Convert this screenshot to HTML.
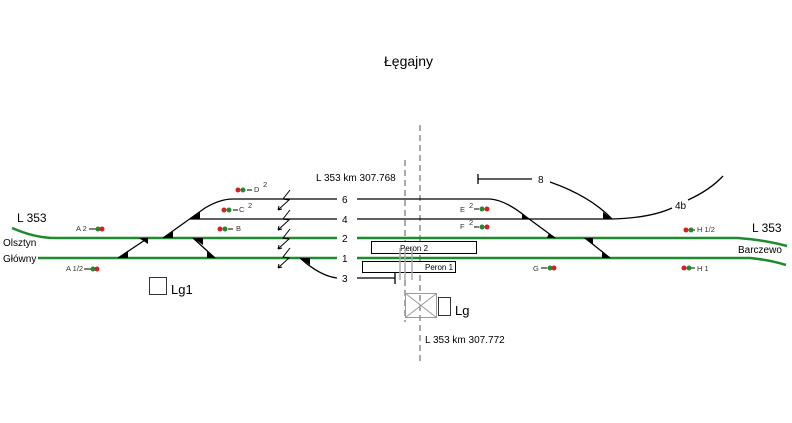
<!DOCTYPE html>
<html><head><meta charset="utf-8"><style>
body{margin:0;background:#fff}
svg{display:block;font-family:"Liberation Sans",Arial,sans-serif}
</style></head><body>
<svg width="792" height="423" viewBox="0 0 792 423">
<rect width="792" height="423" fill="#fff"/>
<text x="384" y="66" font-size="14">Łęgajny</text>
<!-- dashed lines -->
<line x1="405" y1="160" x2="405" y2="322" stroke="#555" stroke-width="1" stroke-dasharray="6,4"/>
<line x1="420" y1="125" x2="420" y2="365" stroke="#555" stroke-width="1" stroke-dasharray="6,4"/>
<!-- green tracks -->
<g stroke="#1e8c2c" stroke-width="2.5" fill="none">
<path d="M12,228 Q35,238 55,238 L337,238"/>
<path d="M357,238 L738,238 Q765,240 787,246"/>
<path d="M38,258 L337,258"/>
<path d="M357,258 L750,258 Q770,260 786,265"/>
</g>
<!-- black tracks -->
<g stroke="#000" stroke-width="1.3" fill="none">
<path d="M163,238 L205,208 Q220,199 233,199 L337,199"/>
<path d="M357,199 L490,199 Q505,200 525,216 L555,238"/>
<path d="M190,219 L337,219"/>
<path d="M357,219 L612,219 Q650,218 672,208"/>
<path d="M688,200 Q710,190 723,176"/>
<path d="M118,258 L148,238"/>
<path d="M193,238 L215,258"/>
<path d="M585,238 L610,258"/>
<path d="M300,258 Q320,276 337,278"/>
<path d="M357,278 L395,278"/><path d="M395,273 V284"/>
<path d="M478,179 L532,179"/><path d="M478,174 V184"/>
<path d="M550,182 Q590,196 612,219"/>
</g>
<!-- switch triangles -->
<g fill="#000">
<polygon points="118,258 128,258 128,251"/>
<polygon points="139,238 148,238 148,244"/>
<polygon points="163,238 173,238 173,231"/>
<polygon points="190,219 200,219 200,212"/>
<polygon points="193,238 203,238 203,245"/>
<polygon points="207,250 215,258 207,258"/>
<polygon points="300,258 310,258 310,265"/>
<polygon points="522,214 530,219 522,219"/>
<polygon points="549,233 555,238 547,238"/>
<polygon points="584,238 593,238 593,245"/>
<polygon points="602,251 610,258 602,258"/>
<polygon points="603,212 612,219 603,219"/>
</g>
<!-- arrows -->
<g stroke="#000" stroke-width="1" fill="none">
<path d="M290,190 L283,199 L289,200 L278,210 M278,210 l4,-1 M278,210 l1,-4"/>
<path d="M290,210 L283,219 L289,220 L278,230 M278,230 l4,-1 M278,230 l1,-4"/>
<path d="M290,229 L283,238 L289,239 L278,249 M278,249 l4,-1 M278,249 l1,-4"/>
<path d="M290,248 L283,257 L289,258 L278,268 M278,268 l4,-1 M278,268 l1,-4"/>
</g>
<!-- platforms -->
<rect x="371.5" y="241.5" width="105" height="12" fill="#fff" stroke="#000"/>
<text x="400" y="251" font-size="8">Peron 2</text>
<rect x="362.5" y="261.5" width="93" height="11" fill="#fff" stroke="#000"/>
<text x="425" y="270" font-size="8">Peron 1</text>
<g stroke="#aaa" stroke-width="1.5"><line x1="400" y1="248" x2="400" y2="280"/><line x1="405" y1="248" x2="405" y2="280"/><line x1="412" y1="248" x2="412" y2="280"/></g>
<!-- buildings -->
<g stroke="#999" fill="none"><rect x="405.5" y="293.5" width="31" height="24"/><path d="M405.5,293.5 L436.5,317.5 M436.5,293.5 L405.5,317.5"/></g>
<rect x="438.5" y="297.5" width="12" height="18" fill="none" stroke="#333"/>
<text x="455" y="315" font-size="13">Lg</text>
<rect x="149.5" y="277.5" width="17" height="17" fill="none" stroke="#333"/>
<text x="171" y="294" font-size="13">Lg1</text>
<!-- labels -->
<g font-size="10">
<text x="342" y="203">6</text><text x="342" y="223">4</text><text x="342" y="242">2</text><text x="342" y="262">1</text><text x="342" y="282">3</text>
<text x="538" y="183">8</text><text x="675" y="209">4b</text>
<text x="316" y="181">L 353 km  307.768</text>
<text x="425" y="343">L 353  km  307.772</text>
<text x="3" y="246">Olsztyn</text><text x="3" y="262">Główny</text>
<text x="738" y="253">Barczewo</text>
</g>
<text x="17" y="222" font-size="12">L 353</text>
<text x="752" y="232" font-size="12">L 353</text>
<!-- signals -->
<g font-size="7.5" fill="#333">
<text x="76" y="231">A 2</text><text x="66" y="271">A 1/2</text>
<text x="254" y="192">D</text><text x="263" y="187">2</text>
<text x="239" y="212">C</text><text x="248" y="208">2</text>
<text x="236" y="231">B</text>
<text x="460" y="212">E</text><text x="469" y="208">2</text>
<text x="460" y="229">F</text><text x="469" y="225">2</text>
<text x="533" y="271">G</text>
<text x="697" y="232">H 1/2</text><text x="697" y="271">H 1</text>
</g>
<g stroke="#000" stroke-width="1">
<line x1="89" y1="229" x2="96" y2="229"/><line x1="84" y1="269" x2="91" y2="269"/>
<line x1="247" y1="190" x2="252" y2="190"/><line x1="233" y1="210" x2="238" y2="210"/>
<line x1="228" y1="229" x2="233" y2="229"/><line x1="474" y1="209" x2="479" y2="209"/>
<line x1="474" y1="227" x2="479" y2="227"/><line x1="541" y1="268" x2="547" y2="268"/>
<line x1="690" y1="230" x2="695" y2="230"/><line x1="690" y1="268" x2="695" y2="268"/>
</g>
<g>
<circle cx="98" cy="229" r="2.5" fill="#1e8c2c"/><circle cx="102" cy="229" r="2.5" fill="#d81e1e"/>
<circle cx="93" cy="269" r="2.5" fill="#1e8c2c"/><circle cx="97" cy="269" r="2.5" fill="#d81e1e"/>
<circle cx="238" cy="190" r="2.5" fill="#d81e1e"/><circle cx="243" cy="190" r="2.5" fill="#1e8c2c"/>
<circle cx="224" cy="210" r="2.5" fill="#d81e1e"/><circle cx="229" cy="210" r="2.5" fill="#1e8c2c"/>
<circle cx="220" cy="229" r="2.5" fill="#d81e1e"/><circle cx="225" cy="229" r="2.5" fill="#1e8c2c"/>
<circle cx="482" cy="209" r="2.5" fill="#1e8c2c"/><circle cx="487" cy="209" r="2.5" fill="#d81e1e"/>
<circle cx="482" cy="227" r="2.5" fill="#1e8c2c"/><circle cx="487" cy="227" r="2.5" fill="#d81e1e"/>
<circle cx="550" cy="268" r="2.5" fill="#1e8c2c"/><circle cx="554" cy="268" r="2.5" fill="#d81e1e"/>
<circle cx="686" cy="230" r="2.5" fill="#d81e1e"/><circle cx="691" cy="230" r="2.5" fill="#1e8c2c"/>
<circle cx="684" cy="268" r="2.5" fill="#d81e1e"/><circle cx="689" cy="268" r="2.5" fill="#1e8c2c"/>
</g>
</svg>
</body></html>
